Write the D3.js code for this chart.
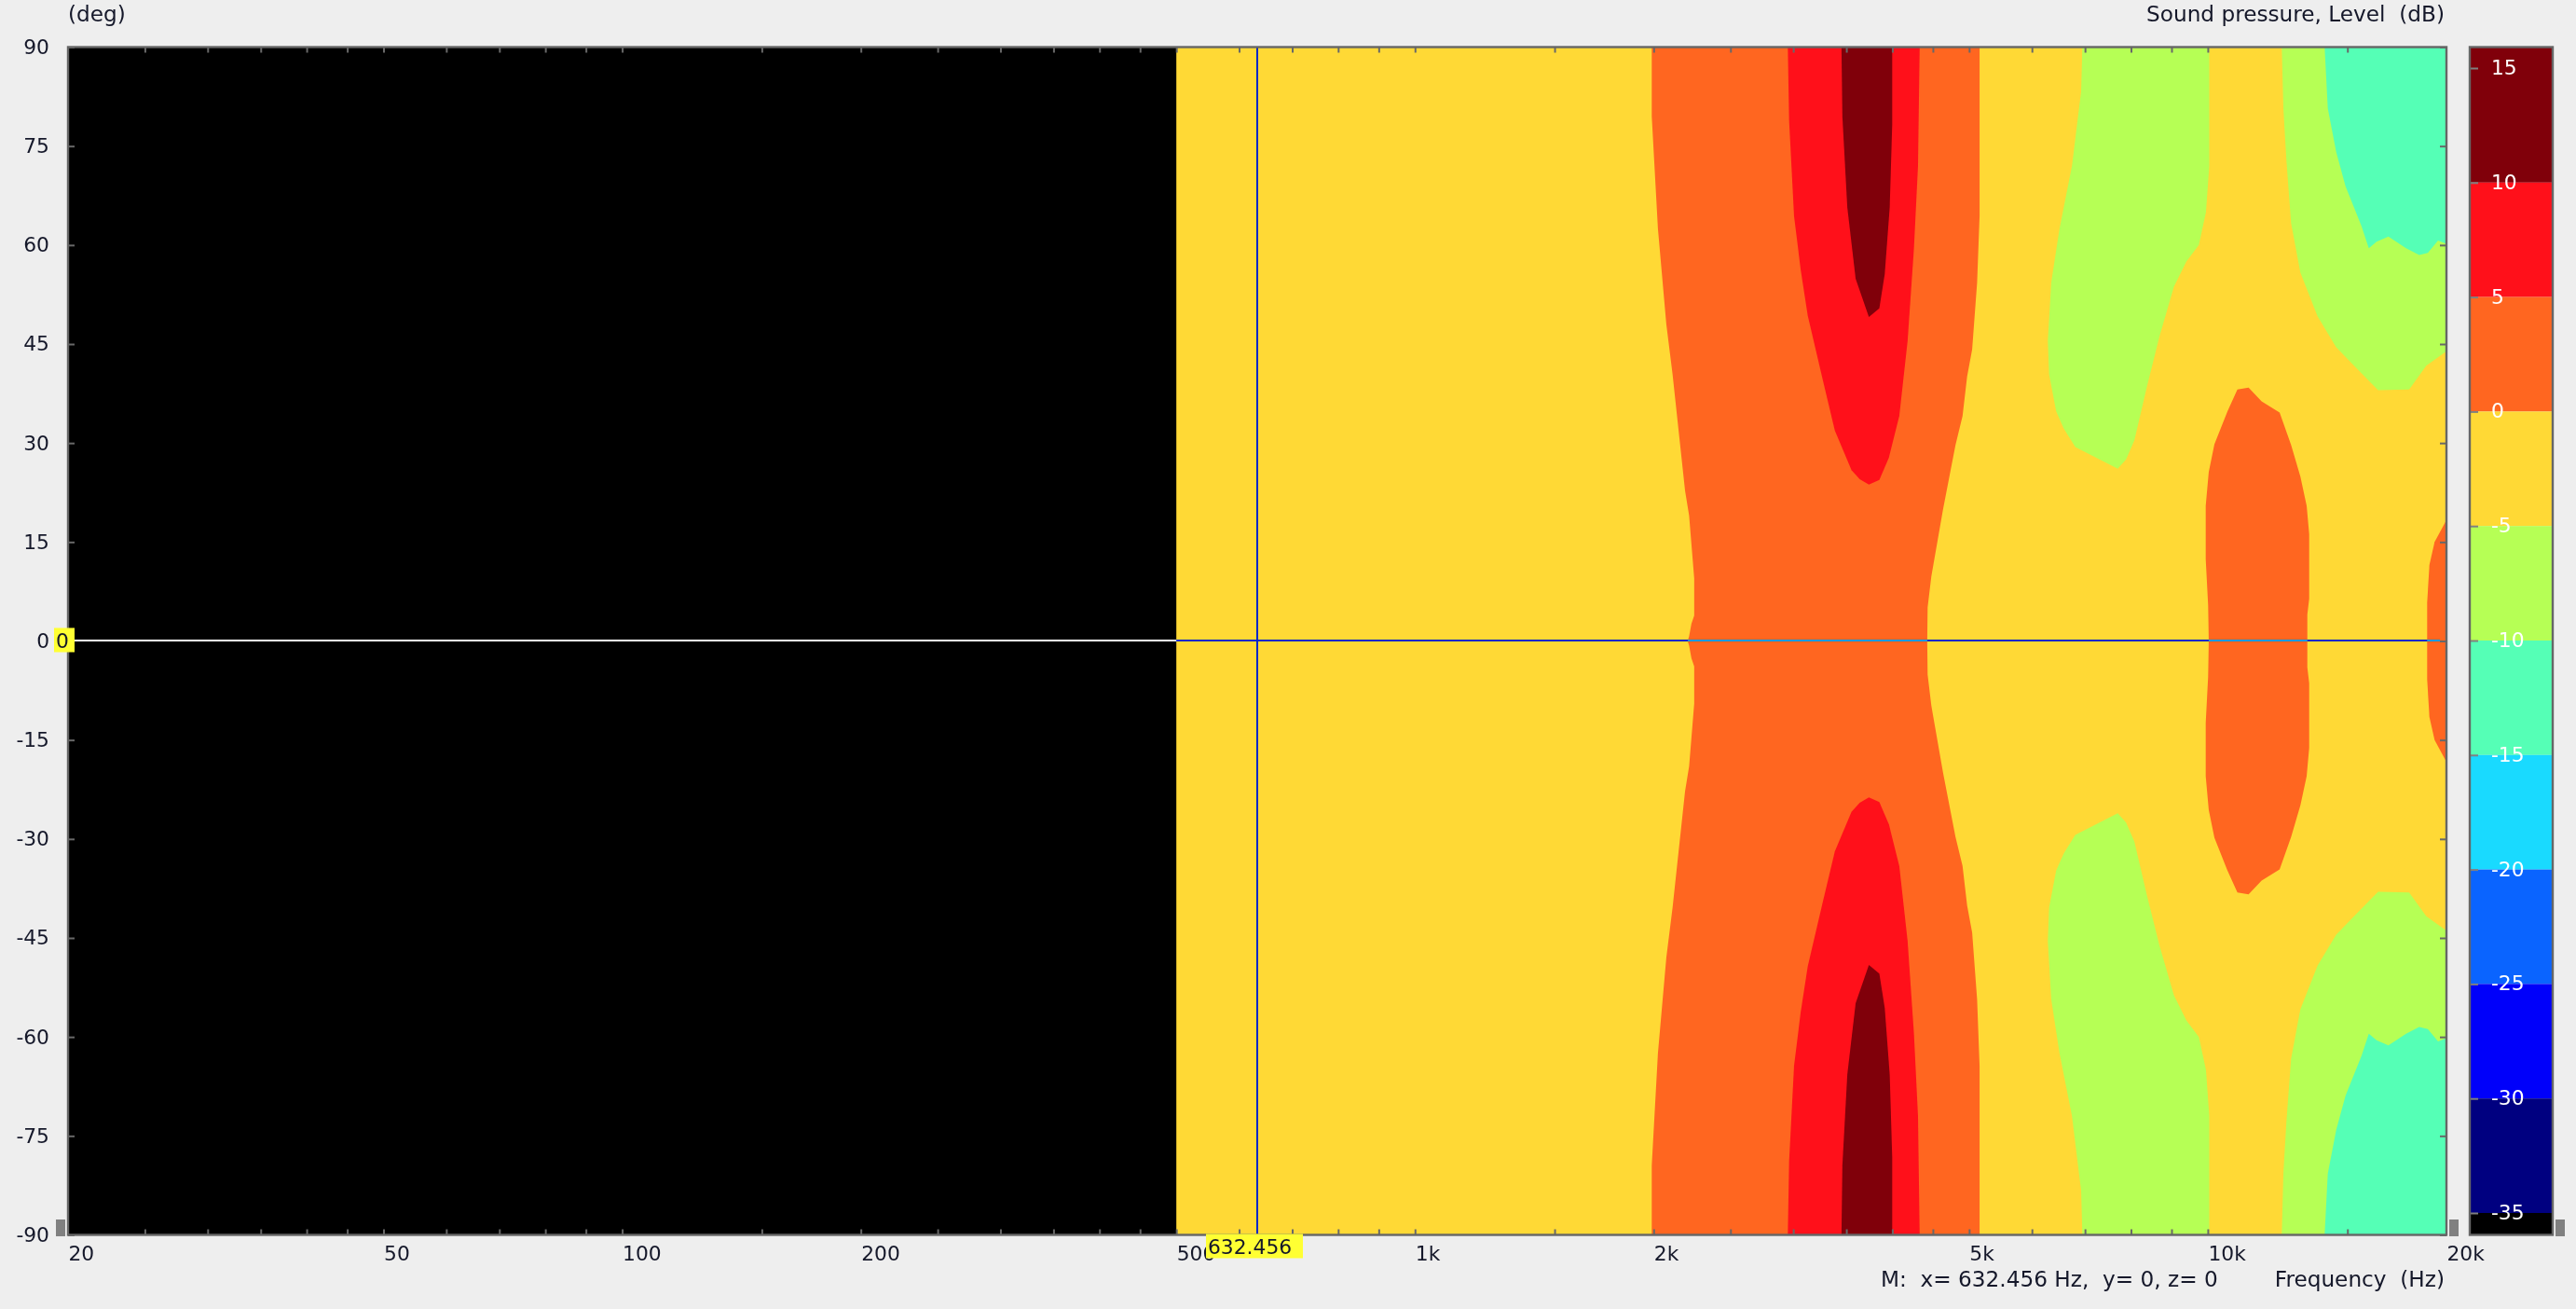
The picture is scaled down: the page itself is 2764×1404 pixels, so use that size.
<!DOCTYPE html>
<html><head><meta charset="utf-8">
<script src="https://cdn.jsdelivr.net/npm/d3@7"></script>
<style>
html,body{margin:0;padding:0;background:#eeeeee;overflow:hidden}
svg{display:block;filter:blur(0.6px)}
text{font-family:"DejaVu Sans",sans-serif;font-size:21.8px;fill:#15182a;white-space:pre}
text.title{font-size:23.2px}
</style></head><body>
<script>
// ---- axis data ----
const freqDomain = [20, 20000];
const angleDomain = [90, -90];
const freqLabels = [20, 50, 100, 200, 500, 1000, 2000, 5000, 10000, 20000];
const freqTicks = [25,30,35,40,45,50,60,70,80,90,100,150,200,250,300,350,400,450,500,600,700,800,900,1000,1500,2000,2500,3000,3500,4000,4500,5000,6000,7000,8000,9000,10000,15000];
const angleTicks = [90,75,60,45,30,15,0,-15,-30,-45,-60,-75,-90];
// ---- colour scale ----
const levelEdges = [16,10,5,0,-5,-10,-15,-20,-25,-30,-35,-36];
const levelColors = ["#80000a","#ff101a","#ff6620","#ffd935","#b6ff55","#55ffb6","#19daff","#0a64ff","#0000fa","#000080","#000000"];
const levelLabels = [15,10,5,0,-5,-10,-15,-20,-25,-30,-35];
// ---- measured contours, [Hz, deg]; measurement is mirror-symmetric about 0 deg ----
const dataStartHz = 500;
const band0to5LeftUpper = [[1989,90],[1989,79.5],[2025,62.5],[2075,48],[2113,40.4],[2191,22.8],[2217,19],[2250,9.5],[2250,3.85],[2232,2.6],[2217,0.7],[2208,0]];
const band0to5RightUpper = [[5154,90],[5154,64.4],[5117,54.3],[5044,44.2],[4971,40.1],[4905,34.1],[4806,29.7],[4634,19.9],[4480,9.8],[4432,5.1],[4427,0]];
const band5to10Upper = [[2953,90],[2964,78.9],[3007,64.4],[3066,56.2],[3129,49.3],[3265,39.8],[3385,31.9],[3553,25.9],[3639,24.5],[3737,23.7],[3852,24.4],[3961,27.8],[4082,34.1],[4182,45.5],[4259,59.4],[4310,72],[4331,90]];
const band10upUpper = [[3451,90],[3460,79.5],[3510,65.7],[3596,54.9],[3737,49.1],[3852,50.4],[3913,55.6],[3970,65.7],[3999,78.3],[3999,90]];
const bandM5midUpper = [[6947,90],[6922,83.3],[6740,72],[6501,62.5],[6346,54.3],[6284,45.5],[6307,40.4],[6438,34.8],[6580,32.2],[6806,29.4],[7699,26.1],[7887,27.5],[8080,30.4],[8378,38.5],[8688,46.1],[9063,53.7],[9397,57.5],[9744,60],[9947,65],[10043,72],[10043,90]];
const bandM5highUpper = [[12396,90],[12454,80.7],[12566,72.8],[12737,63.3],[13086,55.8],[13754,49.2],[14520,44.5],[15466,41.1],[16400,38],[17947,38.1],[18860,41.7],[20000,43.9],[20000,90]];
const bandM10highUpper = [[14040,90],[14170,80.7],[14520,74.1],[14918,68.9],[15466,64.2],[15634,62.8],[15962,59.5],[16326,60.5],[16897,61.3],[17788,59.5],[18476,58.5],[18946,58.8],[19518,60.7],[20000,60.2],[20000,90]];
const islandUpper = [[10028,0],[10010,5.4],[9940,12.4],[9940,20.5],[10028,25.6],[10194,29.8],[10588,34.8],[10898,38.1],[11258,38.4],[11692,36.3],[12320,34.6],[12737,29.7],[13086,24.9],[13326,20.5],[13424,16.2],[13424,6.4],[13352,4],[13352,0]];
const sliverUpper = [[18910,0],[18910,5.8],[19034,11.5],[19324,15],[19950,18.1],[20000,18.1],[20000,0]];
// ---- marker ----
const markerHz = 632.456, markerDeg = 0;
const markerHzText = "632.456", markerDegText = "0";
const readoutText = "M:  x= 632.456 Hz,  y= 0, z= 0";

// ---- layout ----
const W = 2764, H = 1404;
const P = {l:73, t:50.5, r:2625, b:1324.5};
const C = {l:2650, r:2739};
const x = d3.scaleLog().domain(freqDomain).range([P.l, P.r]);
const y = d3.scaleLinear().domain(angleDomain).range([P.t, P.b]);
const cy = d3.scaleLinear().domain([15,-35]).range([73,1301]);
const colorOf = d3.scaleOrdinal().domain(levelEdges.slice(0,-1)).range(levelColors);
const fill = v => colorOf(v);

const svg = d3.select("body").append("svg").attr("width",W).attr("height",H).style("background","#eeeeee");
svg.append("defs").append("clipPath").attr("id","plot").append("rect")
  .attr("x",P.l).attr("y",P.t).attr("width",P.r-P.l).attr("height",P.b-P.t);

const line = d3.line().x(d=>x(d[0])).y(d=>y(d[1]));
const flip = a => a.map(([f,d])=>[f,-d]);
const mirrorClose = a => a.concat(flip(a).reverse());
const plot = svg.append("g").attr("clip-path","url(#plot)");
const poly = (pts,color) => plot.append("path").attr("d",line(pts)+"Z").attr("fill",color);

plot.append("rect").attr("x",P.l).attr("y",P.t).attr("width",P.r-P.l).attr("height",P.b-P.t).attr("fill","#000");
plot.append("rect").attr("x",x(dataStartHz)).attr("y",P.t).attr("width",P.r-x(dataStartHz)).attr("height",P.b-P.t).attr("fill",fill(0));

poly(mirrorClose(band0to5LeftUpper).concat(mirrorClose(band0to5RightUpper).reverse()), fill(5));
[band5to10Upper, flip(band5to10Upper)].forEach(p=>poly(p, fill(10)));
[band10upUpper, flip(band10upUpper)].forEach(p=>poly(p, fill(16)));
[bandM5midUpper, flip(bandM5midUpper)].forEach(p=>poly(p, fill(-5)));
[bandM5highUpper, flip(bandM5highUpper)].forEach(p=>poly(p, fill(-5)));
[bandM10highUpper, flip(bandM10highUpper)].forEach(p=>poly(p, fill(-10)));
poly(mirrorClose(islandUpper), fill(5));
poly(mirrorClose(sliverUpper), fill(5));

// marker cross (inverting, as the original drew it)
const cross = plot.append("g").style("mix-blend-mode","difference").attr("stroke","#fff").attr("stroke-width",2);
cross.append("line").attr("x1",P.l).attr("x2",P.r-7).attr("y1",y(markerDeg)-0.5).attr("y2",y(markerDeg)-0.5);
cross.append("line").attr("x1",x(markerHz)).attr("x2",x(markerHz)).attr("y1",P.t).attr("y2",P.b);

// axes
const fmtHz = v => v>=1000 ? (v/1000)+"k" : String(v);
function tickStyle(g){ g.select(".domain").remove(); g.selectAll("line").attr("stroke","#686868").attr("stroke-width",2); }
svg.append("g").attr("transform",`translate(0,${P.b})`).call(d3.axisBottom(x).tickValues(freqTicks).tickFormat("").tickSize(-6)).call(tickStyle);
svg.append("g").attr("transform",`translate(0,${P.t})`).call(d3.axisTop(x).tickValues(freqTicks).tickFormat("").tickSize(-6)).call(tickStyle);
svg.append("g").attr("transform",`translate(${P.l},0)`).call(d3.axisLeft(y).tickValues(angleTicks).tickFormat("").tickSize(-7)).call(tickStyle);
svg.append("g").attr("transform",`translate(${P.r},0)`).call(d3.axisRight(y).tickValues(angleTicks).tickFormat("").tickSize(-7)).call(tickStyle);

svg.append("rect").attr("x",P.l).attr("y",P.t).attr("width",P.r-P.l).attr("height",P.b-P.t)
  .attr("fill","none").attr("stroke","#666").attr("stroke-width",2.4);

// tick labels
const xLab = svg.append("g").attr("transform",`translate(0,${P.b})`)
  .call(d3.axisBottom(x).tickValues(freqLabels).tickFormat(fmtHz).tickSize(0).tickPadding(0));
xLab.select(".domain").remove();
xLab.selectAll("text").attr("text-anchor","start").attr("dy",null).attr("y",27.5);
xLab.attr("font-size",null).attr("font-family",null);
const yLab = svg.append("g").attr("transform",`translate(${P.l},0)`)
  .call(d3.axisLeft(y).tickValues(angleTicks).tickFormat(d=>String(d)).tickSize(0).tickPadding(20));
yLab.select(".domain").remove();
yLab.selectAll("text").attr("dy","0.32em");
yLab.attr("font-size",null).attr("font-family",null);

// corner titles
svg.append("text").attr("class","title").attr("x",73).attr("y",23).text("(deg)");
svg.append("text").attr("class","title").attr("x",2623).attr("y",23).attr("text-anchor","end").text("Sound pressure, Level  (dB)");
svg.append("text").attr("class","title").attr("x",2623).attr("y",1380).attr("text-anchor","end").text("Frequency  (Hz)");
svg.append("text").attr("class","title").attr("x",2018).attr("y",1380).text(readoutText);

// colour bar
const bar = svg.append("g");
bar.selectAll("rect").data(levelColors).join("rect")
  .attr("x",C.l).attr("width",C.r-C.l)
  .attr("y",(d,i)=> i===0 ? P.t : cy(levelEdges[i]))
  .attr("height",(d,i)=> (i===levelColors.length-1 ? P.b : cy(levelEdges[i+1])) - (i===0 ? P.t : cy(levelEdges[i])))
  .attr("fill",d=>d);
const barTicks = svg.append("g").attr("transform",`translate(${C.l},0)`)
  .call(d3.axisLeft(cy).tickValues(levelLabels).tickFormat("").tickSize(-9));
barTicks.select(".domain").remove();
barTicks.selectAll("line").attr("stroke","#808080").attr("stroke-width",2);
svg.append("g").selectAll("text").data(levelLabels).join("text")
  .attr("x",2673).attr("y",d=>cy(d)).attr("dy","0.32em").style("fill","#fff").text(d=>d);
svg.append("rect").attr("x",C.l).attr("y",P.t).attr("width",C.r-C.l).attr("height",P.b-P.t)
  .attr("fill","none").attr("stroke","#666").attr("stroke-width",2.4);

// drag handles
[[60,70],[2628,2638],[2742,2752]].forEach(([a,b])=>{
  svg.append("rect").attr("x",a).attr("y",1308).attr("width",b-a).attr("height",18).attr("fill","#808080");
});

// marker flags
const mx = x(markerHz), my = y(markerDeg);
svg.append("rect").attr("x",58).attr("y",my-14).attr("width",22).attr("height",26).attr("fill","#ffff33");
svg.append("text").attr("x",60).attr("y",my+7).text(markerDegText);
svg.append("rect").attr("x",mx-55).attr("y",P.b-1).attr("width",104).attr("height",26).attr("fill","#ffff33");
svg.append("text").attr("x",mx-53).attr("y",P.b+20).text(markerHzText);
</script>
</body></html>
